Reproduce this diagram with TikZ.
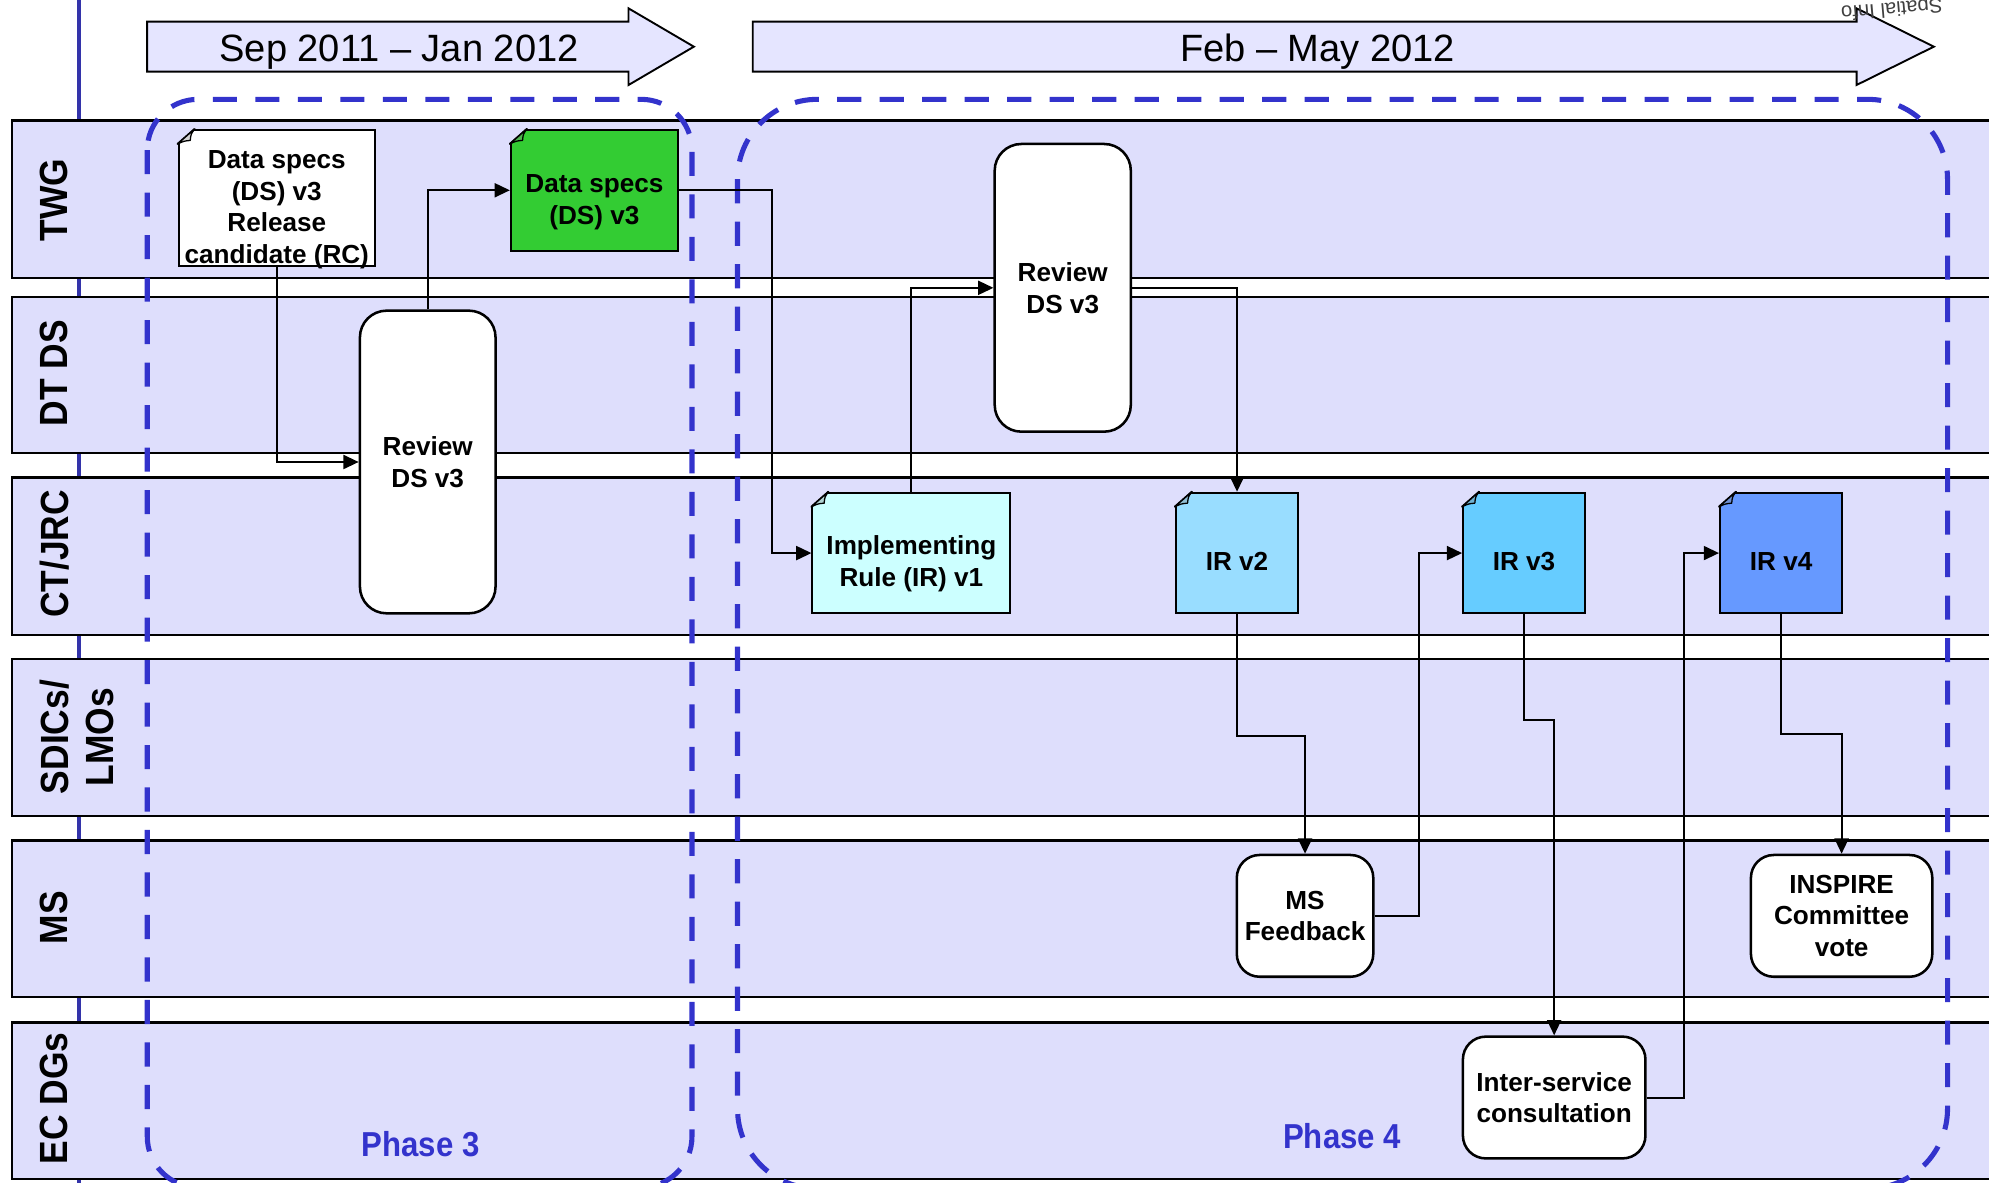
\documentclass[tikz,border=0pt]{standalone}
\usepackage{fontspec}
\setmainfont{Liberation Sans}
\newfontfamily\condfont[FakeStretch=0.9]{Liberation Sans}
\usetikzlibrary{arrows.meta}

\definecolor{lanefill}{RGB}{222,222,252}
\definecolor{arrowfill}{RGB}{229,229,255}
\definecolor{phaseblue}{RGB}{51,51,204}
\definecolor{vlineblue}{RGB}{51,51,170}
\definecolor{dsgreen}{RGB}{51,204,51}
\definecolor{irone}{RGB}{204,255,255}
\definecolor{irtwo}{RGB}{153,221,255}
\definecolor{irthree}{RGB}{102,204,255}
\definecolor{irfour}{RGB}{102,153,255}

\newcommand\docfold[2]{%
  \fill[lanefill] ([xshift=-2pt,yshift=2pt]#1.north west) -- ([xshift=13.4pt,yshift=2pt]#1.north west)
     -- ([xshift=13.4pt]#1.north west) -- ([yshift=-11.8pt]#1.north west)
     -- ([xshift=-2pt,yshift=-11.8pt]#1.north west) -- cycle;
  \draw[line width=1.6pt, line cap=round] ([xshift=13.4pt]#1.north west) -- ([yshift=-11.8pt]#1.north west);
  \filldraw[fill=#2!65!gray, draw=black, line width=1pt, line join=round]
     ([xshift=13.4pt]#1.north west) -- ([yshift=-11.8pt]#1.north west)
     .. controls ([xshift=5pt,yshift=-9.5pt]#1.north west) .. ([xshift=10pt,yshift=-9pt]#1.north west)
     .. controls ([xshift=10.5pt,yshift=-4pt]#1.north west) .. cycle;
}

\begin{document}
\begin{tikzpicture}[x=1pt,y=-1pt,
  lane/.style={draw=black, line width=1.8pt, fill=lanefill},
  lanelabel/.style={rotate=90, font=\condfont\fontsize{31}{35.8}\selectfont\bfseries, align=center, inner sep=0pt},
  timeline/.style={draw=black, line width=1.5pt, fill=arrowfill, line join=miter},
  tltext/.style={font=\fontsize{30}{36}\selectfont, anchor=base, inner sep=0pt},
  phase/.style={draw=phaseblue, line width=4pt, dash pattern=on 19pt off 14.5pt},
  phasetext/.style={font=\condfont\fontsize{27.3}{30}\selectfont\bfseries, text=phaseblue, anchor=base, inner sep=0pt},
  doc/.style={draw=black, line width=1.6pt, rectangle, inner sep=0pt},
  doctext/.style={font=\fontsize{20.6}{25}\selectfont\bfseries, align=center, yshift=-6.5pt, inner sep=0pt},
  proc/.style={draw=black, fill=white, line width=2pt, rectangle, rounded corners=18pt, inner sep=0pt, align=center, font=\fontsize{20.6}{25}\selectfont\bfseries},
  conn/.style={draw=black, line width=1.6pt, -{Triangle[length=12pt,width=11pt]}},
  vline/.style={draw=vlineblue, line width=2.6pt}
]
\useasboundingbox (0,0) rectangle (1568,932);
\clip (0,0) rectangle (1568,932);

% vertical blue line behind lanes
\draw[vline] (62.3,-5) -- (62.3,940);

% swim lanes
\draw[lane] (9.7,95) rectangle (1600,219);
\draw[lane] (9.7,234) rectangle (1600,357);
\draw[lane] (9.7,376.5) rectangle (1600,500.4);
\draw[lane] (9.7,519.5) rectangle (1600,643);
\draw[lane] (9.7,662.5) rectangle (1600,786);
\draw[lane] (9.7,806) rectangle (1600,929.5);

\node[lanelabel] (ltwg) at (42.7,157.5) {TWG};
\node[lanelabel] (ldtds) at (42.7,294.3) {DT DS};
\node[lanelabel] (lct) at (42.7,436.6) {CT/JRC};
\node[lanelabel] (lsdic) at (60.6,581) {SDICs/\\LMOs};
\node[lanelabel] (lms) at (42.7,723.5) {MS};
\node[lanelabel] (lec) at (42.7,866) {EC DGs};

% timeline arrows
\draw[timeline] (116,17.1) -- (495.5,17.1) -- (495.5,6.6) -- (547,36.8) -- (495.5,67) -- (495.5,56.5) -- (116,56.5) -- cycle;
\draw[timeline] (593.4,17.1) -- (1463.6,17.1) -- (1463.6,6.6) -- (1524.5,36.8) -- (1463.6,67) -- (1463.6,56.5) -- (593.4,56.5) -- cycle;
\node[tltext] (t1) at (314.6,48.3) {Sep 2011 -- Jan 2012};
\node[tltext] (t2) at (1038.7,48.3) {Feb -- May 2012};

% phases
\draw[phase, rounded corners=40pt] (116.1,78.3) rectangle (545.5,936);
\draw[phase, rounded corners=63pt] (581.4,78.3) rectangle (1535.3,937);
\node[phasetext] (p3) at (331.5,911.5) {Phase 3};
\node[phasetext] (p4) at (1058,905.3) {Phase 4};

% documents
\node[doc, fill=white, minimum width=154.8pt, minimum height=107.2pt,
  label={[doctext, yshift=-2.8pt]center:Data specs\\(DS) v3\\Release\\candidate (RC)}] (rc) at (218.2,156.1) {};
\node[doc, fill=dsgreen, minimum width=131.7pt, minimum height=95.1pt,
  label={[doctext, yshift=-2.8pt]center:Data specs\\(DS) v3}] (gds) at (468.6,150) {};
\node[doc, fill=irone, minimum width=156pt, minimum height=95.1pt,
  label={[doctext, yshift=-2pt]center:Implementing\\Rule (IR) v1}] (ir1) at (718.5,436) {};
\node[doc, fill=irtwo, minimum width=96.4pt, minimum height=95.1pt,
  label={[doctext]center:IR v2}] (ir2) at (975.2,436) {};
\node[doc, fill=irthree, minimum width=95.9pt, minimum height=95.1pt,
  label={[doctext]center:IR v3}] (ir3) at (1201.4,436) {};
\node[doc, fill=irfour, minimum width=96.3pt, minimum height=95.1pt,
  label={[doctext]center:IR v4}] (ir4) at (1404.1,436) {};

\docfold{rc}{white}
\docfold{gds}{dsgreen}
\docfold{ir1}{irone}
\docfold{ir2}{irtwo}
\docfold{ir3}{irthree}
\docfold{ir4}{irfour}

% process boxes
\node[proc, rounded corners=21pt, minimum width=106.9pt, minimum height=238.6pt] (rev1) at (337.2,364.2) {Review\\DS v3};
\node[proc, rounded corners=21pt, minimum width=107.3pt, minimum height=226.8pt] (rev2) at (837.8,226.9) {Review\\DS v3};
\node[proc, minimum width=107.6pt, minimum height=96pt] (ms) at (1028.8,722) {MS\\Feedback};
\node[proc, minimum width=143pt, minimum height=96pt] (vote) at (1451.8,722) {INSPIRE\\Committee\\vote};
\node[proc, minimum width=143.9pt, minimum height=96pt] (isc) at (1225.2,865.2) {Inter-service\\consultation};

% connectors
\draw[conn] (rc.south) |- (rev1.west);
\draw[conn] (rev1.north) |- (gds.west);
\draw[conn] (gds.east) -- ++(73.6,0) |- (ir1.west);
\draw[conn] (ir1.north) |- (rev2.west);
\draw[conn] (rev2.east) -| (ir2.north);
\draw[conn] (ir2.south) -- ++(0,95.5) -| (ms.north);
\draw[conn] (ms.east) -- ++(35.4,0) |- (ir3.west);
\draw[conn] (ir3.south) -- ++(0,83.5) -| (isc.north);
\draw[conn] (isc.east) -- ++(29.5,0) |- (ir4.west);
\draw[conn] (ir4.south) -- ++(0,94.5) -| (vote.north);

% cropped logo text at top right
\node[rotate=185, anchor=base west, inner sep=0pt, font=\fontsize{16}{16}\selectfont, text=black!75] (logo) at (1531,-1.5) {Spatial Info};
\end{tikzpicture}
\end{document}
